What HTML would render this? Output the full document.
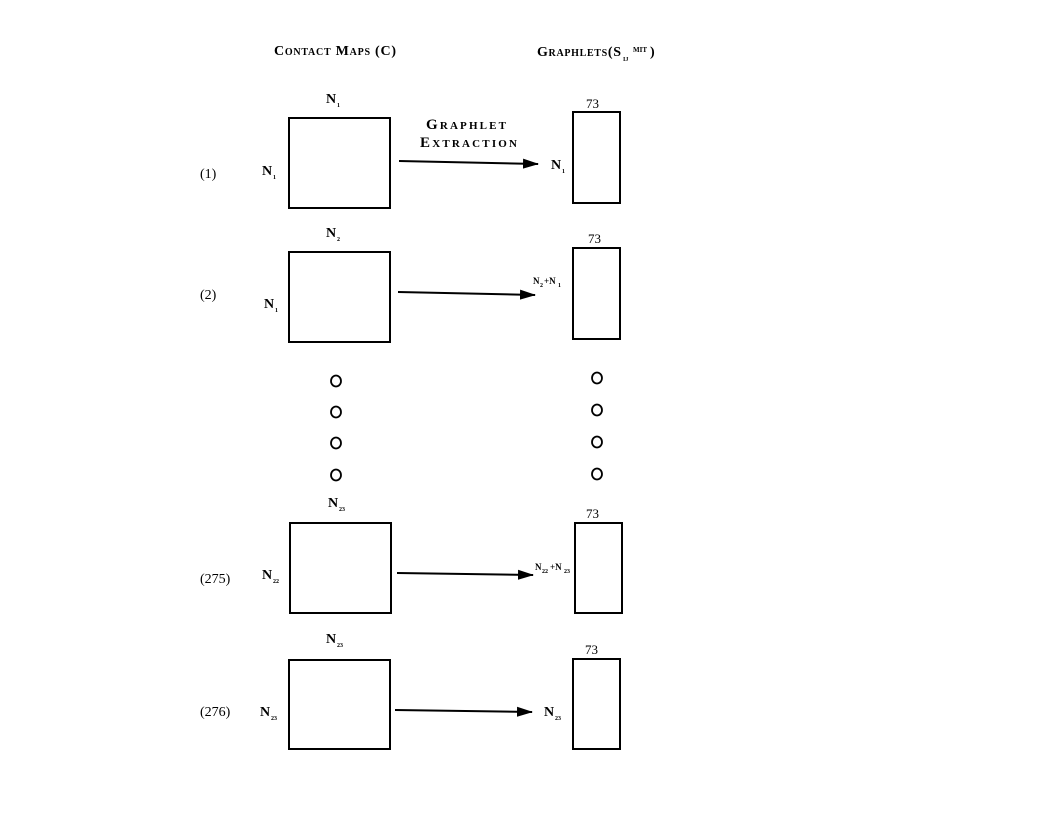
<!DOCTYPE html>
<html><head><meta charset="utf-8"><style>
html,body{margin:0;padding:0;background:#fff;}
svg{display:block;}
text{font-family:"Liberation Serif",serif;fill:#000;}
.sc{font-variant:small-caps;font-weight:bold;}
.n{font-size:14px;font-weight:bold;}
.s{font-size:6px;font-weight:bold;}
</style></head><body>
<svg width="1056" height="816" viewBox="0 0 1056 816" xmlns="http://www.w3.org/2000/svg">
<defs><marker id="a" markerWidth="16" markerHeight="12" refX="15" refY="6" orient="auto" markerUnits="userSpaceOnUse"><path d="M0,1 L16,6 L0,11 Z" fill="#000"/></marker></defs>
<text x="274" y="55" class="sc" font-size="14" textLength="122">Contact Maps (C)</text>
<text x="537" y="56" class="sc" font-size="14" textLength="84">Graphlets(S</text><text x="623" y="61" font-size="6" font-weight="bold">IJ</text><text x="633" y="52" font-size="7" font-weight="bold">MIT</text><text x="650" y="56" font-size="14" font-weight="bold">)</text>

<g fill="none" stroke="#000" stroke-width="2">
<rect x="289" y="118" width="101" height="90"/>
<rect x="573" y="112" width="47" height="91"/>
<rect x="289" y="252" width="101" height="90"/>
<rect x="573" y="248" width="47" height="91"/>
<rect x="290" y="523" width="101" height="90"/>
<rect x="575" y="523" width="47" height="90"/>
<rect x="289" y="660" width="101" height="89"/>
<rect x="573" y="659" width="47" height="90"/>
</g>
<g stroke="#000" stroke-width="2" marker-end="url(#a)">
<line x1="399" y1="161" x2="538" y2="164"/>
<line x1="398" y1="292" x2="535" y2="295"/>
<line x1="397" y1="573" x2="533" y2="575"/>
<line x1="395" y1="710" x2="532" y2="712"/>
</g>
<g fill="none" stroke="#000" stroke-width="1.8">
<ellipse cx="336" cy="381" rx="5" ry="5.5"/><ellipse cx="336" cy="412" rx="5" ry="5.5"/><ellipse cx="336" cy="443" rx="5" ry="5.5"/><ellipse cx="336" cy="475" rx="5" ry="5.5"/>
<ellipse cx="597" cy="378" rx="5" ry="5.5"/><ellipse cx="597" cy="410" rx="5" ry="5.5"/><ellipse cx="597" cy="442" rx="5" ry="5.5"/><ellipse cx="597" cy="474" rx="5" ry="5.5"/>
</g>
<text x="426" y="129" class="sc" font-size="15" textLength="80">Graphlet</text>
<text x="420" y="147" class="sc" font-size="15" textLength="97">Extraction</text>

<text x="200" y="178" font-size="14">(1)</text>
<text x="200" y="299" font-size="14">(2)</text>
<text x="200" y="583" font-size="14">(275)</text>
<text x="200" y="716" font-size="14">(276)</text>

<text x="326" y="103" class="n">N</text><text x="337" y="107" class="s">1</text>
<text x="262" y="175" class="n">N</text><text x="273" y="179" class="s">1</text>
<text x="551" y="169" class="n">N</text><text x="562" y="173" class="s">1</text>
<text x="586" y="108" font-size="13">73</text>

<text x="326" y="237" class="n">N</text><text x="337" y="241" class="s">2</text>
<text x="264" y="308" class="n">N</text><text x="275" y="312" class="s">1</text>
<text x="533" y="284" font-size="9" font-weight="bold">N</text><text x="540" y="287" class="s">2</text><text x="544" y="284" font-size="9" font-weight="bold">+N</text><text x="558" y="287" class="s">1</text>
<text x="588" y="243" font-size="13">73</text>

<text x="328" y="507" class="n">N</text><text x="339" y="511" class="s">23</text>
<text x="262" y="579" class="n">N</text><text x="273" y="583" class="s">22</text>
<text x="535" y="570" font-size="9" font-weight="bold">N</text><text x="542" y="573" class="s">22</text><text x="550" y="570" font-size="9" font-weight="bold">+N</text><text x="564" y="573" class="s">23</text>
<text x="586" y="518" font-size="13">73</text>

<text x="326" y="643" class="n">N</text><text x="337" y="647" class="s">23</text>
<text x="260" y="716" class="n">N</text><text x="271" y="720" class="s">23</text>
<text x="544" y="716" class="n">N</text><text x="555" y="720" class="s">23</text>
<text x="585" y="654" font-size="13">73</text>
</svg>
</body></html>
